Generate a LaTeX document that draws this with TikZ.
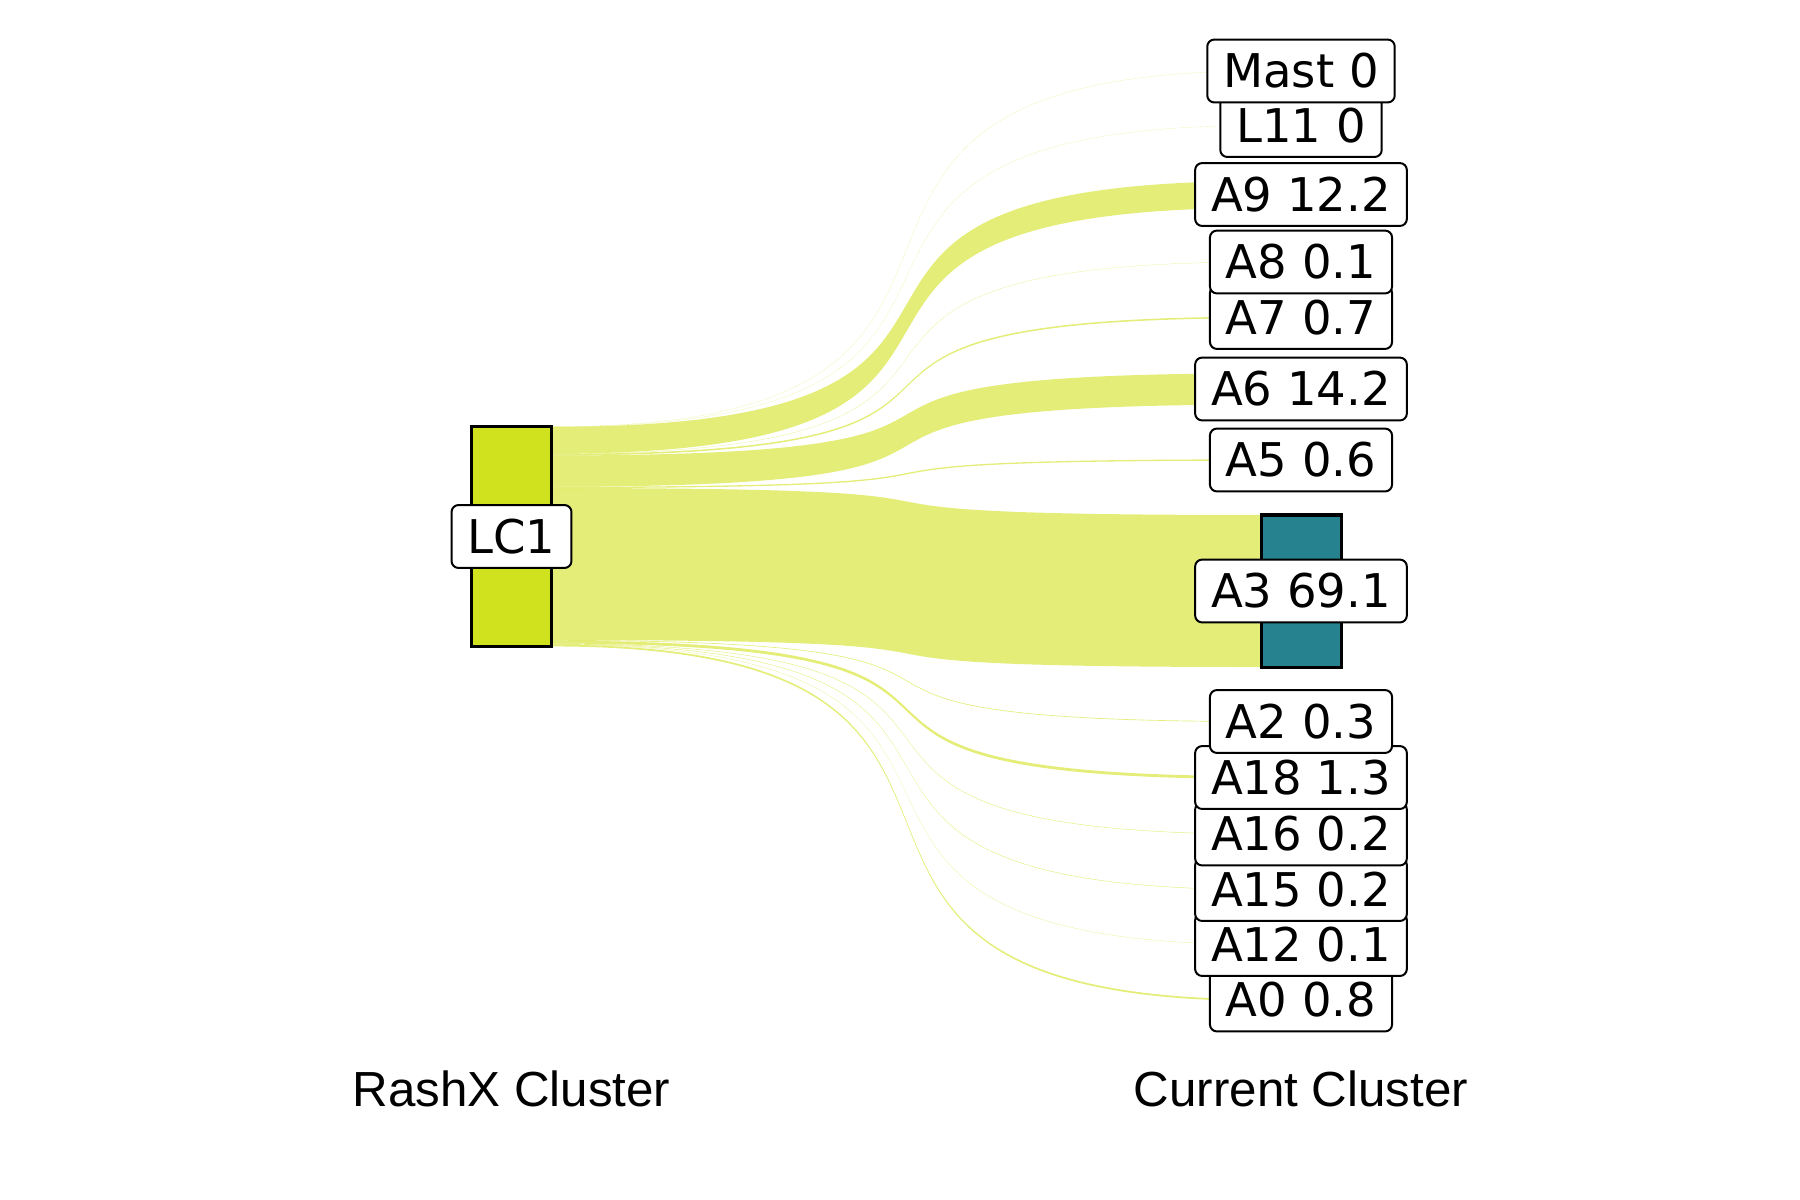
\documentclass[tikz,border=0pt]{standalone}
\usepackage{fontspec}
\setmainfont{DejaVu Sans}
\newfontfamily\axisfont{Liberation Sans}
\usetikzlibrary{calc,backgrounds}

\definecolor{lcyellow}{RGB}{208,225,30}
\definecolor{ateal}{RGB}{38,130,142}

\tikzset{
  bar/.style={draw, line width=3pt, inner sep=0pt, outer sep=0pt, minimum width=80pt},
  flow/.style={fill=lcyellow, fill opacity=0.6},
  lab/.style={draw, fill=white, rounded corners=7pt, line width=2pt,
    inner xsep=16pt, inner ysep=14.5pt, text height=33.9pt, text depth=0pt,
    font=\fontsize{46.5pt}{50pt}\selectfont},
  axislab/.style={anchor=base, font=\axisfont\fontsize{49.3pt}{56pt}\selectfont}
}

% name / y / share
\def\targets{Mast/71/0, L11/125.5/0, A9/194.5/12.2, A8/262/0.1, A7/317.5/0.7,
  A6/389/14.2, A5/460/0.6, A3/591/69.1, A2/721.5/0.3, A18/777.5/1.3,
  A16/834/0.2, A15/889.5/0.2, A12/944.5/0.1, A0/1000/0.8}

\begin{document}
\begin{tikzpicture}[x=1pt, y=-1pt]
\useasboundingbox (0,0) rectangle (1800,1200);

\node[bar, fill=lcyellow, minimum height=219.6pt] (LC1) at (511.5,536.5) {};
\coordinate (cl) at (695,0);
\coordinate (cr) at (1119,0);

\foreach \nm/\y/\v in \targets {
  \node[bar, minimum height=\v*2.2pt] (\nm) at (1301,\y) {};
}
\node[bar, fill=ateal, minimum height=152pt] at (A3) {};

% flows
\gdef\ycum{0}
\begin{scope}[on background layer]
  \foreach \nm/\y/\v in \targets {
    \pgfmathsetmacro\w{max(\v,0.04)*2.2}
    \coordinate (\nm-a) at ($(LC1.north east)+(0,\ycum)$);
    \pgfmathsetmacro\ynext{\ycum+\w}
    \xdef\ycum{\ynext}
    \coordinate (\nm-b) at ($(LC1.north east)+(0,\ycum)$);
    \coordinate (\nm-c) at ($(\nm.west)+(0,-\w/2)$);
    \coordinate (\nm-d) at ($(\nm.west)+(0,\w/2)$);
    \fill[flow] (\nm-a) .. controls (cr |- \nm-a) and (cl |- \nm-c) .. (\nm-c)
      -- (\nm-d) .. controls (cl |- \nm-d) and (cr |- \nm-b) .. (\nm-b) -- cycle;
  }
\end{scope}

% labels, lowest first
\foreach \nm/\txt in {A0/A0 0.8, A12/A12 0.1, A15/A15 0.2, A16/A16 0.2,
  A18/A18 1.3, A2/A2 0.3, A3/A3 69.1, A5/A5 0.6, A6/A6 14.2, A7/A7 0.7,
  A8/A8 0.1, A9/A9 12.2, L11/L11 0, Mast/Mast 0} {
  \node[lab] (\nm-lab) at (\nm) {\txt};
}
\node[lab] (LC1-lab) at (LC1) {LC1};

\node[axislab] (srcname) at (511.5,1106) {RashX Cluster};
\node[axislab] (dstname) at (1301,1106) {Current Cluster};

\end{tikzpicture}
\end{document}
